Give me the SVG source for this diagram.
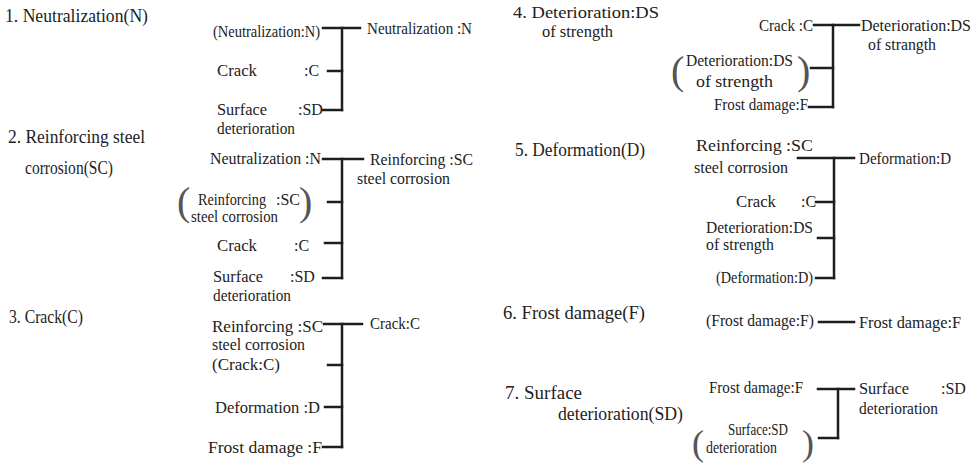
<svg xmlns="http://www.w3.org/2000/svg" width="976" height="466" viewBox="0 0 976 466" font-family="'Liberation Serif', 'DejaVu Serif', serif">
<style>
text{font-family:"Liberation Serif","DejaVu Serif",serif;fill:#222}
.t{font-size:18px}
.l{font-size:16px}
.p{font-size:40px;fill:#555}
.c line{stroke:#1e1e1e;stroke-width:2.5;stroke-linecap:square}
</style>
<rect width="976" height="466" fill="#fff"/>
<g id="titles">
<text class="t" x="5" y="22" textLength="143" lengthAdjust="spacingAndGlyphs">1. Neutralization(N)</text>
<text class="t" x="8" y="143" textLength="137" lengthAdjust="spacingAndGlyphs">2. Reinforcing steel</text>
<text class="t" x="25" y="174" textLength="88" lengthAdjust="spacingAndGlyphs">corrosion(SC)</text>
<text class="t" x="9" y="323" textLength="74" lengthAdjust="spacingAndGlyphs">3. Crack(C)</text>
<text class="t" x="513" y="18" textLength="146" lengthAdjust="spacingAndGlyphs" style="font-size:17px">4. Deterioration:DS</text>
<text class="t" x="542" y="37" textLength="71" lengthAdjust="spacingAndGlyphs" style="font-size:17px">of strength</text>
<text class="t" x="515" y="156" textLength="130" lengthAdjust="spacingAndGlyphs">5. Deformation(D)</text>
<text class="t" x="503" y="319" textLength="142" lengthAdjust="spacingAndGlyphs">6. Frost damage(F)</text>
<text class="t" x="505" y="399" textLength="77" lengthAdjust="spacingAndGlyphs">7. Surface</text>
<text class="t" x="558" y="420" textLength="125" lengthAdjust="spacingAndGlyphs">deterioration(SD)</text>
</g>
<g id="node-N">
<text class="l" x="213" y="37" textLength="107" lengthAdjust="spacingAndGlyphs">(Neutralization:N)</text>
<text class="l" x="217" y="76" textLength="40" lengthAdjust="spacingAndGlyphs">Crack</text>
<text class="l" x="304" y="76">:C</text>
<text class="l" x="217" y="115" textLength="50" lengthAdjust="spacingAndGlyphs">Surface</text>
<text class="l" x="298" y="115">:SD</text>
<text class="l" x="217" y="134" textLength="78" lengthAdjust="spacingAndGlyphs">deterioration</text>
<text class="l" x="367" y="34" textLength="105" lengthAdjust="spacingAndGlyphs">Neutralization :N</text>
</g>
<g id="node-SC">
<text class="l" x="210" y="164" textLength="111" lengthAdjust="spacingAndGlyphs">Neutralization :N</text>
<text class="p" x="177" y="215">(</text>
<text class="l" x="198" y="205" textLength="68" lengthAdjust="spacingAndGlyphs">Reinforcing</text>
<text class="l" x="276" y="205">:SC</text>
<text class="p" x="299" y="215">)</text>
<text class="l" x="191" y="222" textLength="87" lengthAdjust="spacingAndGlyphs">steel corrosion</text>
<text class="l" x="217" y="251" textLength="40" lengthAdjust="spacingAndGlyphs">Crack</text>
<text class="l" x="294" y="251">:C</text>
<text class="l" x="213" y="282" textLength="50" lengthAdjust="spacingAndGlyphs">Surface</text>
<text class="l" x="290" y="282">:SD</text>
<text class="l" x="213" y="301" textLength="78" lengthAdjust="spacingAndGlyphs">deterioration</text>
<text class="l" x="370" y="165" textLength="103" lengthAdjust="spacingAndGlyphs">Reinforcing :SC</text>
<text class="l" x="357" y="184" textLength="93" lengthAdjust="spacingAndGlyphs">steel corrosion</text>
</g>
<g id="node-C">
<text class="l" x="212" y="332" textLength="111" lengthAdjust="spacingAndGlyphs">Reinforcing   :SC</text>
<text class="l" x="212" y="350" textLength="93" lengthAdjust="spacingAndGlyphs">steel corrosion</text>
<text class="l" x="212" y="370" textLength="68" lengthAdjust="spacingAndGlyphs">(Crack:C)</text>
<text class="l" x="215" y="413" textLength="105" lengthAdjust="spacingAndGlyphs">Deformation  :D</text>
<text class="l" x="208" y="453" textLength="114" lengthAdjust="spacingAndGlyphs">Frost damage :F</text>
<text class="l" x="370" y="329" textLength="50" lengthAdjust="spacingAndGlyphs">Crack:C</text>
</g>
<g id="node-DS">
<text class="l" x="759" y="31" textLength="54" lengthAdjust="spacingAndGlyphs">Crack :C</text>
<text class="p" x="671" y="84">(</text>
<text class="l" x="686" y="66" textLength="107" lengthAdjust="spacingAndGlyphs">Deterioration:DS</text>
<text class="l" x="696" y="87" textLength="77" lengthAdjust="spacingAndGlyphs">of strength</text>
<text class="p" x="797" y="84">)</text>
<text class="l" x="714" y="110" textLength="94" lengthAdjust="spacingAndGlyphs">Frost damage:F</text>
<text class="l" x="861" y="31" textLength="110" lengthAdjust="spacingAndGlyphs">Deterioration:DS</text>
<text class="l" x="868" y="50" textLength="68" lengthAdjust="spacingAndGlyphs">of strangth</text>
</g>
<g id="node-D">
<text class="l" x="696" y="151" textLength="117" lengthAdjust="spacingAndGlyphs">Reinforcing   :SC</text>
<text class="l" x="694" y="173" textLength="94" lengthAdjust="spacingAndGlyphs">steel corrosion</text>
<text class="l" x="736" y="207" textLength="40" lengthAdjust="spacingAndGlyphs">Crack</text>
<text class="l" x="801" y="207">:C</text>
<text class="l" x="706" y="233" textLength="107" lengthAdjust="spacingAndGlyphs">Deterioration:DS</text>
<text class="l" x="706" y="250" textLength="68" lengthAdjust="spacingAndGlyphs">of strength</text>
<text class="l" x="716" y="283" textLength="97" lengthAdjust="spacingAndGlyphs">(Deformation:D)</text>
<text class="l" x="859" y="164" textLength="92" lengthAdjust="spacingAndGlyphs">Deformation:D</text>
</g>
<g id="node-F">
<text class="l" x="706" y="326" textLength="108" lengthAdjust="spacingAndGlyphs">(Frost damage:F)</text>
<text class="l" x="859" y="328" textLength="102" lengthAdjust="spacingAndGlyphs">Frost damage:F</text>
</g>
<g id="node-SD">
<text class="l" x="709" y="393" textLength="94" lengthAdjust="spacingAndGlyphs">Frost damage:F</text>
<text class="p" x="692" y="455" style="font-size:36px">(</text>
<text class="l" x="728" y="435" textLength="60" lengthAdjust="spacingAndGlyphs">Surface:SD</text>
<text class="l" x="706" y="453" textLength="71" lengthAdjust="spacingAndGlyphs">deterioration</text>
<text class="p" x="802" y="455" style="font-size:36px">)</text>
<text class="l" x="859" y="394" textLength="50" lengthAdjust="spacingAndGlyphs">Surface</text>
<text class="l" x="941" y="394">:SD</text>
<text class="l" x="859" y="414" textLength="79" lengthAdjust="spacingAndGlyphs">deterioration</text>
</g>
<g id="connectors" class="c">
<line x1="323" y1="28" x2="360" y2="28"/><line x1="342" y1="28" x2="342" y2="110"/><line x1="328" y1="71" x2="342" y2="71"/><line x1="323" y1="110" x2="342" y2="110"/>
<line x1="323" y1="159" x2="363" y2="159"/><line x1="342" y1="159" x2="342" y2="278"/><line x1="328" y1="202" x2="342" y2="202"/><line x1="325" y1="243" x2="342" y2="243"/><line x1="323" y1="278" x2="342" y2="278"/>
<line x1="324" y1="324" x2="362" y2="324"/><line x1="342" y1="324" x2="342" y2="447"/><line x1="328" y1="365" x2="342" y2="365"/><line x1="325" y1="407" x2="342" y2="407"/><line x1="323" y1="447" x2="342" y2="447"/>
<line x1="814" y1="25" x2="859" y2="25"/><line x1="833" y1="25" x2="833" y2="107"/><line x1="811" y1="68" x2="833" y2="68"/><line x1="809" y1="107" x2="833" y2="107"/>
<line x1="798" y1="158" x2="854" y2="158"/><line x1="834" y1="158" x2="834" y2="278"/><line x1="816" y1="202" x2="834" y2="202"/><line x1="818" y1="238" x2="834" y2="238"/><line x1="816" y1="278" x2="834" y2="278"/>
<line x1="819" y1="322" x2="854" y2="322"/>
<line x1="818" y1="389" x2="854" y2="389"/><line x1="838" y1="389" x2="838" y2="438"/><line x1="819" y1="438" x2="838" y2="438"/>
</g>
</svg>
